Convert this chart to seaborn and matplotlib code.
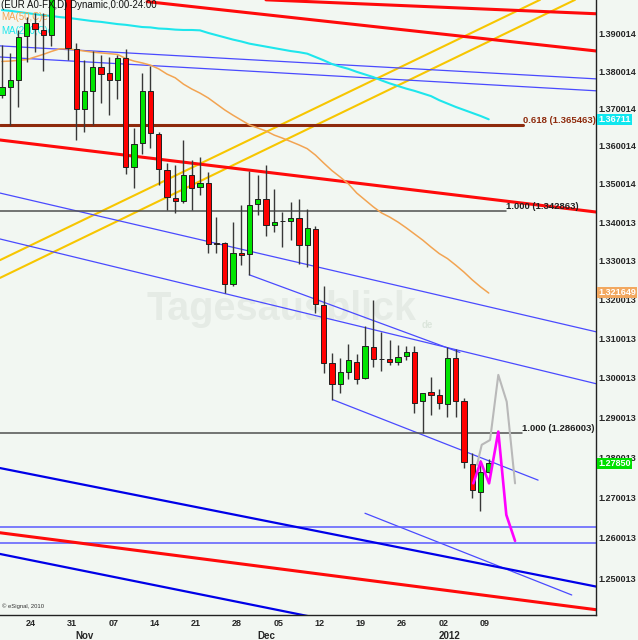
import numpy as np
import matplotlib
matplotlib.use("Agg")
import matplotlib.pyplot as plt
from matplotlib.ticker import FixedLocator, NullLocator
import seaborn as sns

# ---------------- data ----------------
dates = ["2011-10-19", "2011-10-20", "2011-10-21", "2011-10-24", "2011-10-25", "2011-10-26",
         "2011-10-27", "2011-10-28", "2011-10-31", "2011-11-01", "2011-11-02", "2011-11-03",
         "2011-11-04", "2011-11-07", "2011-11-08", "2011-11-09", "2011-11-10", "2011-11-11",
         "2011-11-14", "2011-11-15", "2011-11-16", "2011-11-17", "2011-11-18", "2011-11-21",
         "2011-11-22", "2011-11-23", "2011-11-24", "2011-11-25", "2011-11-28", "2011-11-29",
         "2011-11-30", "2011-12-01", "2011-12-02", "2011-12-05", "2011-12-06", "2011-12-07",
         "2011-12-08", "2011-12-09", "2011-12-12", "2011-12-13", "2011-12-14", "2011-12-15",
         "2011-12-16", "2011-12-19", "2011-12-20", "2011-12-21", "2011-12-22", "2011-12-23",
         "2011-12-26", "2011-12-27", "2011-12-28", "2011-12-29", "2011-12-30", "2012-01-02",
         "2012-01-03", "2012-01-04", "2012-01-05", "2012-01-06", "2012-01-09", "2012-01-10"]

opens = [1.3736, 1.3757, 1.3776, 1.3895, 1.3930, 1.3911, 1.3897, 1.4140, 1.4150, 1.3860,
         1.3698, 1.3747, 1.3811, 1.3795, 1.3776, 1.3835, 1.3545, 1.3608, 1.3747, 1.3632,
         1.3537, 1.3463, 1.3455, 1.3523, 1.3492, 1.3502, 1.3346, 1.3346, 1.3239, 1.3320,
         1.3317, 1.3447, 1.3460, 1.3392, 1.3402, 1.3403, 1.3411, 1.3340, 1.3382, 1.3185,
         1.3037, 1.2984, 1.3014, 1.3040, 1.2999, 1.3078, 1.3048, 1.3047, 1.3040, 1.3055,
         1.3065, 1.2941, 1.2964, 1.2956, 1.2934, 1.3050, 1.2941, 1.2783, 1.2714, 1.2763]
highs = [1.3870, 1.3849, 1.3911, 1.3946, 1.3957, 1.3957, 1.4247, 1.4185, 1.4170, 1.3876,
         1.3830, 1.3854, 1.3843, 1.3838, 1.3843, 1.3860, 1.3648, 1.3795, 1.3814, 1.3637,
         1.3555, 1.3550, 1.3616, 1.3563, 1.3571, 1.3531, 1.3413, 1.3348, 1.3400, 1.3445,
         1.3534, 1.3523, 1.3550, 1.3487, 1.3426, 1.3453, 1.3460, 1.3434, 1.3390, 1.3234,
         1.3063, 1.3050, 1.3085, 1.3060, 1.3132, 1.3198, 1.3116, 1.3096, 1.3083, 1.3080,
         1.3080, 1.2962, 1.3002, 1.2971, 1.3078, 1.3073, 1.2949, 1.2811, 1.2793, 1.2795]
lows = [1.3728, 1.3656, 1.3704, 1.3825, 1.3851, 1.3800, 1.3868, 1.4085, 1.3830, 1.3616,
        1.3637, 1.3656, 1.3714, 1.3682, 1.3725, 1.3526, 1.3489, 1.3579, 1.3595, 1.3497,
        1.3432, 1.3424, 1.3450, 1.3432, 1.3471, 1.3320, 1.3320, 1.3216, 1.3234, 1.3288,
        1.3263, 1.3419, 1.3364, 1.3374, 1.3335, 1.3353, 1.3291, 1.3283, 1.3165, 1.3012,
        1.2944, 1.2961, 1.2996, 1.2984, 1.2996, 1.3027, 1.3017, 1.3032, 1.3032, 1.3045,
        1.2911, 1.2860, 1.2906, 1.2921, 1.2901, 1.2901, 1.2773, 1.2699, 1.2667, 1.2761]
closes = [1.3757, 1.3776, 1.3892, 1.3930, 1.3914, 1.3897, 1.4140, 1.4150, 1.3862, 1.3698,
          1.3747, 1.3811, 1.3792, 1.3776, 1.3835, 1.3545, 1.3605, 1.3747, 1.3635, 1.3539,
          1.3466, 1.3455, 1.3523, 1.3489, 1.3502, 1.3343, 1.3344, 1.3239, 1.3320, 1.3315,
          1.3445, 1.3460, 1.3392, 1.3400, 1.3403, 1.3411, 1.3340, 1.3385, 1.3188, 1.3037,
          1.2984, 1.3014, 1.3045, 1.2996, 1.3080, 1.3047, 1.3047, 1.3040, 1.3053, 1.3065,
          1.2936, 1.2961, 1.2956, 1.2936, 1.3050, 1.2941, 1.2788, 1.2719, 1.2763, 1.2785]

ma50 = [1.3826, 1.3827, 1.3829, 1.3831, 1.3838, 1.3845, 1.3853, 1.3860, 1.3860, 1.3857,
        1.3854, 1.3851, 1.3849, 1.3847, 1.3845, 1.3834, 1.3827, 1.3822, 1.3816, 1.3806,
        1.3792, 1.3782, 1.3765, 1.3752, 1.3741, 1.3728, 1.3712, 1.3696, 1.3682, 1.3669,
        1.3656, 1.3648, 1.3640, 1.3629, 1.3621, 1.3612, 1.3603, 1.3593, 1.3576, 1.3555,
        1.3535, 1.3518, 1.3500, 1.3476, 1.3458, 1.3440, 1.3424, 1.3413, 1.3400, 1.3385,
        1.3369, 1.3353, 1.3335, 1.3318, 1.3305, 1.3288, 1.3270, 1.3250, 1.3232, 1.3216]
ma200 = [1.3965, 1.3963, 1.3960, 1.3957, 1.3954, 1.3951, 1.3949, 1.3946, 1.3944, 1.3941,
         1.3938, 1.3935, 1.3933, 1.3930, 1.3927, 1.3925, 1.3922, 1.3919, 1.3918, 1.3915,
         1.3914, 1.3912, 1.3911, 1.3911, 1.3910, 1.3903, 1.3897, 1.3891, 1.3885, 1.3880,
         1.3874, 1.3870, 1.3866, 1.3862, 1.3858, 1.3854, 1.3851, 1.3847, 1.3838, 1.3829,
         1.3819, 1.3812, 1.3806, 1.3798, 1.3791, 1.3784, 1.3775, 1.3767, 1.3760, 1.3753,
         1.3747, 1.3740, 1.3733, 1.3722, 1.3713, 1.3704, 1.3696, 1.3688, 1.3680, 1.3671]

# trend lines: (start position, start price, end position, end price)
red_lines = [(32.0, 1.3993, 72.1, 1.3955),
             (17.6, 1.3988, 72.1, 1.3854),
             (-0.24, 1.3616, 72.13, 1.3426),
             (-0.24, 1.2613, 72.13, 1.2425)]
blue_thick_lines = [(-0.24, 1.2773, 72.13, 1.2481),
                    (-0.24, 1.2561, 38.55, 1.2404)]
blue_thin_lines = [(-0.24, 1.3868, 72.13, 1.3779),
                   (-0.24, 1.3838, 72.13, 1.3747),
                   (-0.24, 1.3476, 72.13, 1.3116),
                   (-0.24, 1.3356, 72.13, 1.2984),
                   (29.98, 1.3263, 55.5, 1.3064),
                   (40.13, 1.2944, 64.98, 1.2743),
                   (44.0, 1.2661, 69.06, 1.2461)]
support_levels = [1.2628, 1.2589]
yellow_lines = [(-0.24, 1.3301, 65.22, 1.3993),
                (-0.24, 1.3255, 69.46, 1.3993)]

fib_levels = [1.365463, 1.342863, 1.286003]
fib_ends = [63.16, 61.1, 63.04]
fib_labels = ["0.618 (1.365463)", "1.000 (1.342863)", "1.000 (1.286003)"]

proj_grey_pos = [57.58, 58.15, 59.16, 60.16, 61.18, 62.19]
proj_grey_price = [1.2781, 1.2831, 1.2843, 1.3007, 1.2939, 1.2735]
proj_mag_pos = [57.13, 58.03, 59.04, 60.16, 61.13, 62.19]
proj_mag_price = [1.2735, 1.2789, 1.2735, 1.2864, 1.2657, 1.2593]

ytick_values = [1.250013, 1.260013, 1.270013, 1.280013, 1.290013, 1.300013, 1.310013,
                1.320013, 1.330013, 1.340013, 1.350014, 1.360014, 1.370014, 1.380014, 1.390014]
ytick_labels = ["1.250013", "1.260013", "1.270013", "1.280013", "1.290013", "1.300013",
                "1.310013", "1.320013", "1.330013", "1.340013", "1.350014", "1.360014",
                "1.370014", "1.380014", "1.390014"]
week_labels = ["24", "31", "07", "14", "21", "28", "05", "12", "19", "26", "02", "09"]
week_dates = ["2011-10-24", "2011-10-31", "2011-11-07", "2011-11-14", "2011-11-21",
              "2011-11-28", "2011-12-05", "2011-12-12", "2011-12-19", "2011-12-26",
              "2012-01-02", "2012-01-09"]
month_labels = ["Nov", "Dec", "2012"]
month_dates = ["2011-11-01", "2011-12-01", "2012-01-02"]

last_values = [1.36711, 1.321649, 1.27850]
last_labels = ["1.36711", "1.321649", "1.27850"]

# ---------------- style ----------------
BG = "#f2f7f2"
sns.set_style("white")
plt.rcParams["font.family"] = ["Liberation Sans", "DejaVu Sans"]

fig = plt.figure(figsize=(6.38, 6.40), dpi=100)
fig.patch.set_facecolor(BG)
ax = fig.add_axes([0, 25 / 640, 596 / 638, 615 / 640])
ax.set_facecolor(BG)
ax.set_yscale("log")

pos = np.arange(len(dates))
idx = {d: i for i, d in enumerate(dates)}

# trend lines
for x0, y0, x1, y1 in yellow_lines:
    ax.plot([x0, x1], [y0, y1], color="#f7c600", lw=1.5, zorder=1)
for x0, y0, x1, y1 in blue_thin_lines:
    ax.plot([x0, x1], [y0, y1], color="#4a4aff", lw=0.9, zorder=1)
for lvl in support_levels:
    ax.axhline(lvl, color="#5a5aff", lw=1.1, zorder=1)
for x0, y0, x1, y1 in blue_thick_lines:
    ax.plot([x0, x1], [y0, y1], color="#0000e8", lw=1.6, zorder=1.2)
for x0, y0, x1, y1 in red_lines:
    ax.plot([x0, x1], [y0, y1], color="#ff0a0a", lw=2.2, zorder=1.2)

# fib lines
fib_colors = ["#8e2a0c", "#505050", "#505050"]
fib_lw = [2.2, 1.1, 1.1]
fib_text_colors = ["#8e2a0c", "#202020", "#202020"]
for lvl, xe, lab, c, lw, tc in zip(fib_levels, fib_ends, fib_labels, fib_colors, fib_lw, fib_text_colors):
    ax.plot([-0.24, xe], [lvl, lvl], color=c, lw=lw, zorder=1.5)
    ax.text(xe + 0.05, lvl, lab, color=tc, fontsize=6.8, fontweight="bold",
            ha="left", va="bottom", zorder=6)

# moving averages
sns.lineplot(x=pos, y=ma50, ax=ax, color="#f2a452", lw=1.1, zorder=2, legend=False)
sns.lineplot(x=pos, y=ma200, ax=ax, color="#1ee6ec", lw=1.5, zorder=2, legend=False)

# indicator labels (below candles)
ax.text(0.002, 1 - 17.5 / 615, "MA(50,C)e", transform=ax.transAxes, fontsize=7,
        color="#f2a452", ha="left", va="center", zorder=2.6)
ax.text(0.002, 1 - 31 / 615, "MA(200,C)e", transform=ax.transAxes, fontsize=7,
        color="#1ee6ec", ha="left", va="center", zorder=2.6)

# candles
o = np.array(opens); c = np.array(closes); h = np.array(highs); l = np.array(lows)
up = c >= o
body_bottom = np.minimum(o, c)
body_height = np.abs(c - o)
colors = np.where(up, "#00e400", "#ff0000")
ax.vlines(pos, l, h, color="#383838", lw=1.0, zorder=3)
ax.bar(pos, body_height, bottom=body_bottom, width=0.62, color=colors,
       edgecolor="#202020", linewidth=0.7, zorder=3.5)

# projection lines
sns.lineplot(x=proj_grey_pos, y=proj_grey_price, ax=ax, color="#b9b9b9", lw=1.5,
             zorder=5, sort=False, legend=False)
sns.lineplot(x=proj_mag_pos, y=proj_mag_price, ax=ax, color="#ff00ff", lw=1.9,
             zorder=5.5, sort=False, legend=False)

# axes limits
ax.set_xlim(-0.236, 72.0)
ax.set_ylim(1.24125, 1.39925)

# y axis on the right
ax.yaxis.tick_right()
ax.yaxis.set_major_locator(FixedLocator(ytick_values))
ax.yaxis.set_minor_locator(NullLocator())
ax.set_yticklabels(ytick_labels)
ax.tick_params(axis="y", length=0, pad=2, labelsize=6.5)
for t in ax.get_yticklabels():
    t.set_fontweight("bold")

# x axis
ax.set_xticks([idx[d] - 0.1 for d in week_dates])
ax.set_xticklabels(week_labels, ha="left")
ax.set_xticks([idx[d] + 1.1 for d in week_dates[:-1]], minor=True)
ax.tick_params(axis="x", which="major", length=0, pad=3, labelsize=6.5)
ax.tick_params(axis="x", which="minor", length=2, width=0.8, direction="out", color="#333333")
for t in ax.get_xticklabels():
    t.set_fontweight("bold")
xt = ax.get_xaxis_transform()
for lab, d in zip(month_labels, month_dates):
    ax.text(idx[d] - 0.1, -0.0335, lab, transform=xt, ha="left", va="center",
            fontsize=7, fontweight="bold", clip_on=False)

for s in ["top", "left"]:
    ax.spines[s].set_visible(False)
for s in ["right", "bottom"]:
    ax.spines[s].set_color("#222222")
    ax.spines[s].set_linewidth(1.0)

ax.set_xlabel("")
ax.set_ylabel("")

# last value boxes
box_colors = ["#10e6ee", "#f2a860", "#00e000"]
yt = ax.get_yaxis_transform()
for v, lab, bc in zip(last_values, last_labels, box_colors):
    ax.text(1.004, v, lab, transform=yt, ha="left", va="center", fontsize=6.5,
            fontweight="bold", color="white", clip_on=False, zorder=7,
            bbox=dict(boxstyle="square,pad=0.12", fc=bc, ec="none"))

# watermark
ax.text(0.245, 0.497, "Tagesausblick", transform=ax.transAxes, fontsize=28.5,
        fontweight="bold", color="#e5ebe5", ha="left", va="center", zorder=0.5)
ax.text(0.708, 0.472, "de", transform=ax.transAxes, fontsize=7,
        fontweight="bold", color="#dce6dc", ha="left", va="center", zorder=0.5)

# header text
ax.text(0.002, 1 - 5.5 / 615, "(EUR A0-FX,D) Dynamic,0:00-24:00", transform=ax.transAxes,
        fontsize=7, color="#111111", ha="left", va="center", zorder=8)
ax.text(0.004, 0.01, "\u00a9 eSignal, 2010", transform=ax.transAxes, fontsize=4.2,
        color="#333333", ha="left", va="bottom")

fig.savefig("out.png", dpi=100, facecolor=BG)
